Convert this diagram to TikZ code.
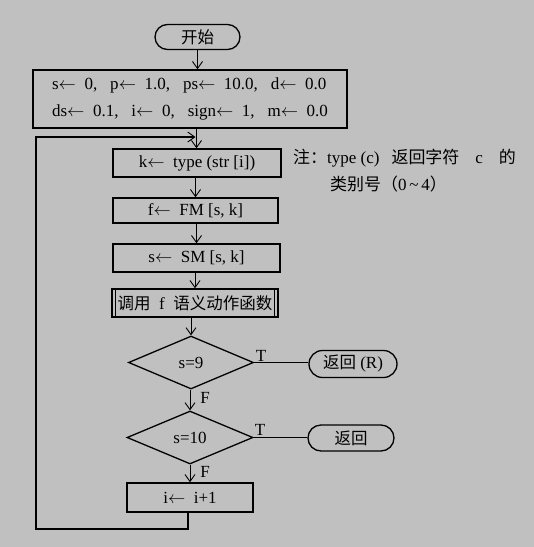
\documentclass[tikz,border=0pt]{standalone}
\usepackage{fontspec}
\setmainfont{Liberation Serif}
\newfontfamily\cjk[Scale=0.97]{Noto Sans CJK SC}
\usetikzlibrary{arrows.meta,shapes.geometric,shapes.misc}
\definecolor{bgc}{HTML}{C0C0C0}
\newcommand{\la}{{$\leftarrow$}}
\newcommand{\gap}{,\hspace{13pt}}
\begin{document}
\begin{tikzpicture}[x=1pt,y=-1pt,
  every node/.style={font=\fontsize{17}{27}\selectfont, inner sep=0pt},
  box/.style={draw, line width=1.5pt, rectangle},
  term/.style={draw, line width=1.3pt, rounded rectangle},
  dec/.style={draw, line width=1.3pt, diamond},
  arr/.style={line width=0.9pt, -{Straight Barb[length=7pt,width=10pt]}},
  ln/.style={line width=1.5pt},
  lbl/.style={font=\fontsize{17}{18}\selectfont}]
\fill[bgc] (0,0) rectangle (534,547);
\useasboundingbox (0,0) rectangle (534,547);

\node[term, minimum width=85pt, minimum height=25pt] (start) at (197.5,37) {{\cjk 开始}};
\node[box, minimum width=314pt, minimum height=58pt, align=left] (init) at (190,99)
  {s\la\ \ 0\gap p\la\ \ 1.0\gap ps\la\ \ 10.0\gap d\la\ \ 0.0\\
   ds\la\ \ 0.1\gap i\la\ \ 0\gap sign\la\ \ 1\gap m\la\ \ 0.0};
\node[box, minimum width=168pt, minimum height=28pt] (k) at (197,163) {k\la\ \ type (str [i])};
\node[box, minimum width=165pt, minimum height=25pt] (f) at (195.5,210.5) {f\la\ \ FM [s, k]};
\node[box, minimum width=167pt, minimum height=28pt] (s) at (196.5,258) {s\la\ \ SM [s, k]};
\node[box, minimum width=166pt, minimum height=28pt] (call) at (195,303) {{\cjk 调用}\ \ f\ \ {\cjk 语义动作函数}};
\draw[line width=1.3pt] ([xshift=4pt]call.north west) -- ([xshift=4pt]call.south west);
\draw[line width=1.3pt] ([xshift=-4pt]call.north east) -- ([xshift=-4pt]call.south east);
\node[dec, minimum width=125pt, minimum height=53pt] (d1) at (191,362.5) {s=9};
\node[term, minimum width=88pt, minimum height=27pt] (r1) at (353,364) {{\cjk 返回} (R)};
\node[dec, minimum width=126pt, minimum height=53pt] (d2) at (190,437.5) {s=10};
\node[term, minimum width=86pt, minimum height=26pt] (r2) at (351,438) {{\cjk 返回}};
\node[box, minimum width=126pt, minimum height=29pt] (inc) at (190,497.5) {i\la\ \ i+1};

\node[anchor=west] (note1) at (293,158) {{\cjk\fontsize{17.5}{20}\selectfont 注：}type (c)\hspace{12pt}{\cjk\fontsize{17.5}{20}\selectfont 返回字符}\hspace{16pt}c\hspace{16pt}{\cjk\fontsize{17.5}{20}\selectfont 的}};
\node[anchor=west] (note2) at (330,184) {{\cjk\fontsize{17.5}{20}\selectfont 类别号（}0\,\textasciitilde\,4{\cjk\fontsize{17.5}{20}\selectfont ）}};

\node[lbl] (t1) at (261,356) {T};
\node[lbl] (t2) at (260,430) {T};
\node[lbl] (f1) at (205,398) {F};
\node[lbl] (f2) at (205,472) {F};

\coordinate (j) at (196.5,137);
\coordinate (lb) at (188,529);
\draw[arr] (start.south) -- (start |- init.north);
\draw[line width=0.9pt] (j |- init.south) -- (j);
\draw[arr] (j) -- (k.north -| j);
\draw[arr] (k.south -| f.north) -- (f.north);
\draw[arr] (f.south -| s.north) -- (s.north);
\draw[arr] (s.south -| call.north) -- (call.north);
\draw[arr] (d1.north |- call.south) -- (d1.north);
\draw[arr] (d1.south -| d2.north) -- (d2.north);
\draw[arr] (d2.south -| inc.north) -- (inc.north);
\draw[ln] (d1.east) -- (d1.east -| r1.west);
\draw[ln] (d2.east) -- (d2.east -| r2.west);
\draw[ln] (lb |- inc.south) -- (lb) -- (36,529) -- (36,137) -- ([xshift=-3pt]j);
\draw[arr] (150,137) -- ([xshift=-1pt]j);
\end{tikzpicture}
\end{document}
